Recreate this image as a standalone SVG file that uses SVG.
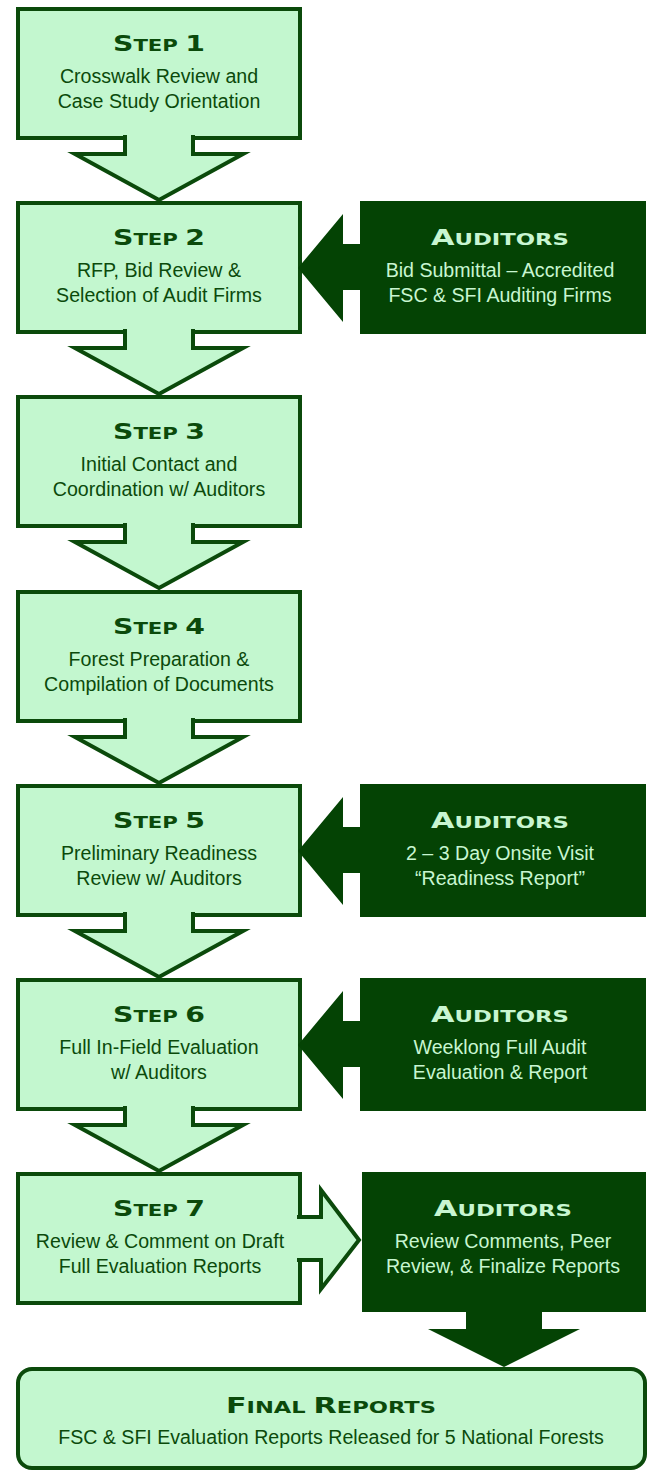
<svg xmlns="http://www.w3.org/2000/svg" width="652" height="1472" viewBox="0 0 652 1472">
<style>
.step{fill:#c3f7cf;stroke:#0b4a0b;stroke-width:4}
.aud{fill:#044304}
.conL{fill:#c3f7cf;stroke:#0b4a0b;stroke-width:4;stroke-linejoin:miter;stroke-miterlimit:10}
.conD{fill:#044304}
.t{font-family:"DejaVu Sans",sans-serif;font-weight:bold;font-size:16.5px;text-anchor:middle}
.big{font-size:22px}
.b{font-family:"Liberation Sans",Arial,sans-serif;font-size:19.6px;text-anchor:middle}
.dk{fill:#0b4a0b}
.lt{fill:#c8f6d1}
</style>
<rect width="652" height="1472" fill="#ffffff"/>

<g id="step1">
<rect class="step" x="18" y="9" width="282" height="129"/>
<text class="t dk" x="159" y="51" textLength="92" lengthAdjust="spacingAndGlyphs"><tspan class="big">S</tspan>TEP <tspan class="big">1</tspan></text>
<text class="b dk" x="159" y="83">Crosswalk Review and</text>
<text class="b dk" x="159" y="108">Case Study Orientation</text>
</g>

<g id="step2">
<rect class="step" x="18" y="203" width="282" height="129"/>
<text class="t dk" x="159" y="245" textLength="92" lengthAdjust="spacingAndGlyphs"><tspan class="big">S</tspan>TEP <tspan class="big">2</tspan></text>
<text class="b dk" x="159" y="277">RFP, Bid Review &amp;</text>
<text class="b dk" x="159" y="302">Selection of Audit Firms</text>
</g>

<g id="auditors2">
<rect class="aud" x="360" y="201" width="286" height="133"/>
<text class="t lt" x="500" y="245" textLength="138" lengthAdjust="spacingAndGlyphs"><tspan class="big">A</tspan>UDITORS</text>
<text class="b lt" x="500" y="277">Bid Submittal – Accredited</text>
<text class="b lt" x="500" y="302">FSC &amp; SFI Auditing Firms</text>
</g>

<g id="step3">
<rect class="step" x="18" y="397" width="282" height="129"/>
<text class="t dk" x="159" y="439" textLength="92" lengthAdjust="spacingAndGlyphs"><tspan class="big">S</tspan>TEP <tspan class="big">3</tspan></text>
<text class="b dk" x="159" y="471">Initial Contact and</text>
<text class="b dk" x="159" y="496">Coordination w/ Auditors</text>
</g>

<g id="step4">
<rect class="step" x="18" y="592" width="282" height="129"/>
<text class="t dk" x="159" y="634" textLength="92" lengthAdjust="spacingAndGlyphs"><tspan class="big">S</tspan>TEP <tspan class="big">4</tspan></text>
<text class="b dk" x="159" y="666">Forest Preparation &amp;</text>
<text class="b dk" x="159" y="691">Compilation of Documents</text>
</g>

<g id="step5">
<rect class="step" x="18" y="786" width="282" height="129"/>
<text class="t dk" x="159" y="828" textLength="92" lengthAdjust="spacingAndGlyphs"><tspan class="big">S</tspan>TEP <tspan class="big">5</tspan></text>
<text class="b dk" x="159" y="860">Preliminary Readiness</text>
<text class="b dk" x="159" y="885">Review w/ Auditors</text>
</g>

<g id="auditors5">
<rect class="aud" x="360" y="784" width="286" height="133"/>
<text class="t lt" x="500" y="828" textLength="138" lengthAdjust="spacingAndGlyphs"><tspan class="big">A</tspan>UDITORS</text>
<text class="b lt" x="500" y="860">2 – 3 Day Onsite Visit</text>
<text class="b lt" x="500" y="885">“Readiness Report”</text>
</g>

<g id="step6">
<rect class="step" x="18" y="980" width="282" height="129"/>
<text class="t dk" x="159" y="1022" textLength="92" lengthAdjust="spacingAndGlyphs"><tspan class="big">S</tspan>TEP <tspan class="big">6</tspan></text>
<text class="b dk" x="159" y="1054">Full In-Field Evaluation</text>
<text class="b dk" x="159" y="1079">w/ Auditors</text>
</g>

<g id="auditors6">
<rect class="aud" x="360" y="978" width="286" height="133"/>
<text class="t lt" x="500" y="1022" textLength="138" lengthAdjust="spacingAndGlyphs"><tspan class="big">A</tspan>UDITORS</text>
<text class="b lt" x="500" y="1054">Weeklong Full Audit</text>
<text class="b lt" x="500" y="1079">Evaluation &amp; Report</text>
</g>

<g id="step7">
<rect class="step" x="18" y="1174" width="282" height="129"/>
<text class="t dk" x="159" y="1216" textLength="92" lengthAdjust="spacingAndGlyphs"><tspan class="big">S</tspan>TEP <tspan class="big">7</tspan></text>
<text class="b dk" x="160" y="1248">Review &amp; Comment on Draft</text>
<text class="b dk" x="160" y="1273">Full Evaluation Reports</text>
</g>

<g id="auditors7">
<rect class="aud" x="362" y="1172" width="284" height="140"/>
<text class="t lt" x="503" y="1216" textLength="138" lengthAdjust="spacingAndGlyphs"><tspan class="big">A</tspan>UDITORS</text>
<text class="b lt" x="503" y="1248">Review Comments, Peer</text>
<text class="b lt" x="503" y="1273">Review, &amp; Finalize Reports</text>
</g>

<g id="final">
<rect class="step" x="18" y="1369" width="627" height="99" rx="14"/>
<text class="t dk" x="331" y="1413" textLength="210" lengthAdjust="spacingAndGlyphs"><tspan class="big">F</tspan>INAL <tspan class="big">R</tspan>EPORTS</text>
<text class="b dk" x="331" y="1444">FSC &amp; SFI Evaluation Reports Released for 5 National Forests</text>
</g>

<g id="connectors">
<path class="conL" d="M125,135 V154 H75 L159,200 L243,154 H193 V135"/>
<path class="conL" d="M125,329 V348 H75 L159,394 L243,348 H193 V329"/>
<path class="conL" d="M125,523 V542 H75 L159,588 L243,542 H193 V523"/>
<path class="conL" d="M125,718 V737 H75 L159,783 L243,737 H193 V718"/>
<path class="conL" d="M125,912 V931 H75 L159,977 L243,931 H193 V912"/>
<path class="conL" d="M125,1106 V1125 H75 L159,1171 L243,1125 H193 V1106"/>
<path class="conL" d="M297,1217 H321 V1190 L359,1240 L321,1289 V1260 H297"/>
<path class="conD" d="M364,244 H343 V214 L298,268 L343,322 V290 H364 Z"/>
<path class="conD" d="M364,827 H343 V797 L298,851 L343,905 V873 H364 Z"/>
<path class="conD" d="M364,1021 H343 V991 L298,1045 L343,1099 V1067 H364 Z"/>
<path class="conD" d="M466,1308 V1329 H428 L504,1367 L580,1329 H542 V1308 Z"/>
</g>
</svg>
